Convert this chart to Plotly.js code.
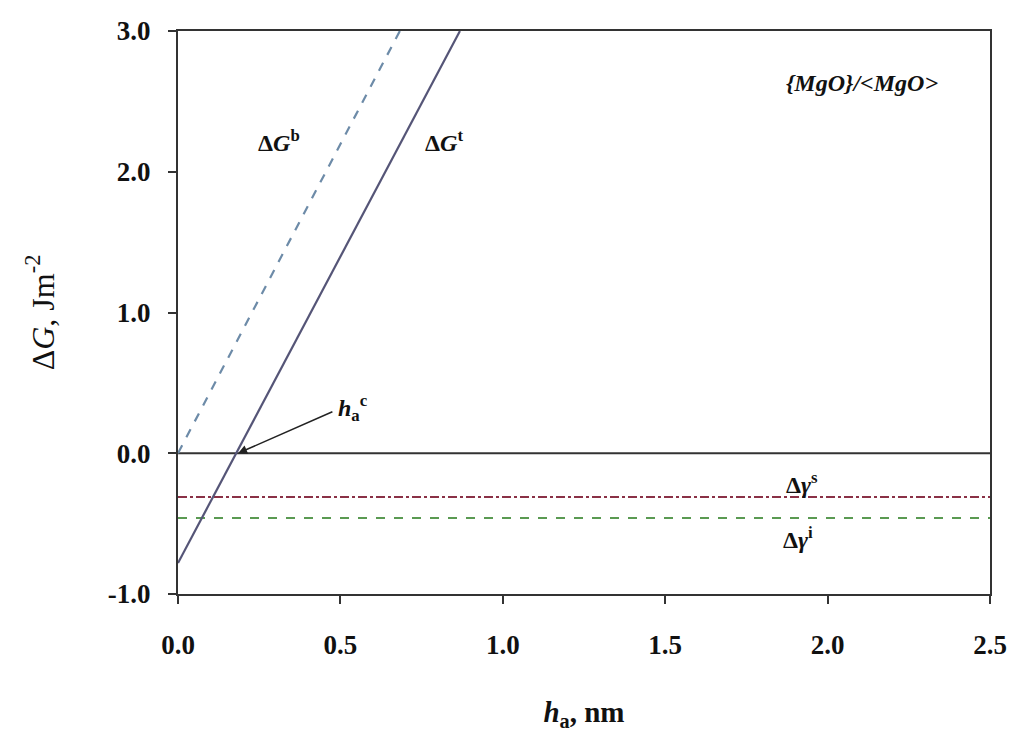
<!DOCTYPE html>
<html><head><meta charset="utf-8">
<script src="https://cdn.plot.ly/plotly-3.0.1.min.js"></script>
<style>body{margin:0;background:#fff}#c{width:1025px;height:751px}</style>
</head><body><div id="c"></div>
<script>
const xT = [0, 0.868];
const yT = [-0.78, 3.0];
const xB = [0, 0.683];
const yB = [0, 3.0];
const xZero = [0, 2.5];
const yZero = [0, 0];
const xS = [0, 2.5];
const yS = [-0.31, -0.31];
const xI = [0, 2.5];
const yI = [-0.46, -0.46];
const hc = [0.185, 0];
const xTicks = [0, 0.5, 1.0, 1.5, 2.0, 2.5];
const yTicks = [-1, 0, 1, 2, 3];

const ff = "Liberation Serif, DejaVu Serif, serif";
const traces = [
  {x: xZero, y: yZero, mode: 'lines', line: {color: '#333', width: 2}},
  {x: xS, y: yS, mode: 'lines', line: {color: '#8a3146', width: 2, dash: 'dashdot'}},
  {x: xI, y: yI, mode: 'lines', line: {color: '#5a9a52', width: 2, dash: 'dash'}},
  {x: xB, y: yB, mode: 'lines', line: {color: '#6d8ba8', width: 2.2, dash: 'dash'}},
  {x: xT, y: yT, mode: 'lines', line: {color: '#555577', width: 2.2}}
];
const layout = {
  width: 1025, height: 751,
  margin: {l: 178, r: 35, t: 31, b: 157},
  showlegend: false,
  paper_bgcolor: '#fff', plot_bgcolor: '#fff',
  font: {family: ff, color: '#111'},
  xaxis: {range: [0, 2.5], tickvals: xTicks, ticktext: xTicks.map(v => v.toFixed(1)),
    ticks: 'outside', ticklen: 8, tickwidth: 2, tickcolor: '#333', showline: true, linecolor: '#333', linewidth: 2,
    mirror: true, showgrid: false, zeroline: false, ticklabelstandoff: 18,
    tickfont: {size: 27, family: ff, weight: 'bold'},
    title: {text: '<b><i>h</i><sub>a</sub>, nm</b>', font: {size: 29, family: ff}, standoff: 42}},
  yaxis: {range: [-1, 3], tickvals: yTicks, ticktext: yTicks.map(v => v.toFixed(1)),
    ticks: 'outside', ticklen: 8, tickwidth: 2, tickcolor: '#333', showline: true, linecolor: '#333', linewidth: 2,
    mirror: true, showgrid: false, zeroline: false, ticklabelstandoff: 12,
    tickfont: {size: 27, family: ff, weight: 'bold'},
    title: {text: 'Δ<i>G</i>, Jm<sup>-2</sup>', font: {size: 32, family: ff}, standoff: 44}},
  annotations: [
    {x: 0.31, y: 2.22, text: '<b>Δ<i>G</i><sup>b</sup></b>', showarrow: false, font: {size: 24, family: ff}},
    {x: 0.82, y: 2.22, text: '<b>Δ<i>G</i><sup>t</sup></b>', showarrow: false, font: {size: 24, family: ff}},
    {x: 2.106, y: 2.63, text: '<b><i>{MgO}/&lt;MgO&gt;</i></b>', showarrow: false, font: {size: 24, family: ff}},
    {x: 1.92, y: -0.21, text: '<b>Δ<i>γ</i><sup>s</sup></b>', showarrow: false, font: {size: 24, family: ff}},
    {x: 1.91, y: -0.48, text: '<b>Δ<i>γ</i><sup>i</sup></b>', showarrow: false, font: {size: 24, family: ff}, yanchor: 'top'},
    {x: hc[0], y: hc[1], ax: 0.48, ay: 0.3, axref: 'x', ayref: 'y', text: '', showarrow: true,
      arrowhead: 2, arrowsize: 1.2, arrowwidth: 1.5, arrowcolor: '#222'},
    {x: 0.54, y: 0.32, text: '<b><i>h</i><sub>a</sub><sup>c</sup></b>', showarrow: false, font: {size: 24, family: ff}}
  ]
};
Plotly.newPlot('c', traces, layout, {displayModeBar: false});
</script></body></html>
